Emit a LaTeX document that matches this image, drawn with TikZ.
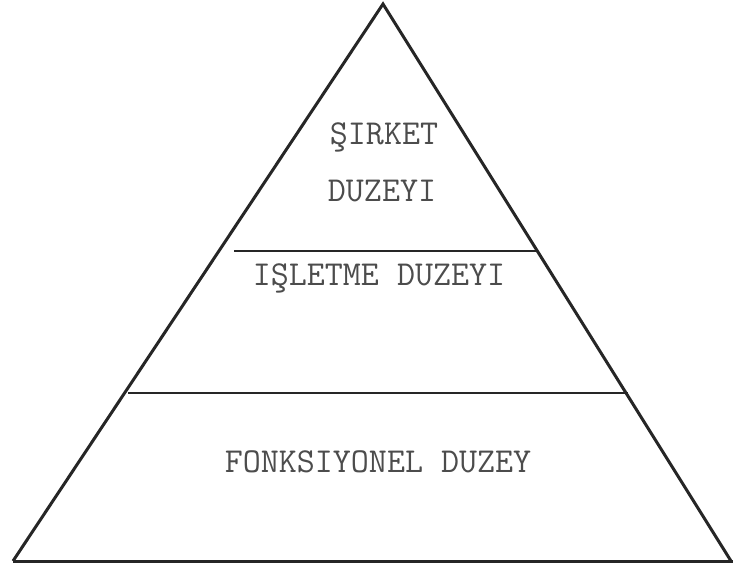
\documentclass[tikz,border=0pt]{standalone}
\usepackage{fontspec}
\usetikzlibrary{positioning, calc}

\begin{document}
\begin{tikzpicture}[
    x=1pt, y=1pt,
    edge/.style={draw=black!85, line width=3pt, line join=miter},
    divider/.style={draw=black!85, line width=1.5pt},
    level/.style={font=\ttfamily\fontsize{35}{40}\selectfont, text=black!70, align=center, inner sep=0pt}
]
    \useasboundingbox (0,0) rectangle (733,570);

    % Pyramid corners
    \coordinate (apex) at (383,566);
    \coordinate (left) at (13,9);
    \coordinate (right) at (731,9);
    \coordinate (baseend) at (733,9);

    % Outline
    \draw[edge] (left) -- (apex) -- (right);
    \draw[edge] (left) -- (baseend);

    % Level dividers
    \coordinate (d1l) at (234,319);
    \coordinate (d1r) at (538,319);
    \coordinate (d2l) at (128,177);
    \coordinate (d2r) at (628,177);
    \draw[divider] (d1l) -- (d1r);
    \draw[divider] (d2l) -- (d2r);

    % Labels
    \node[level] (top1) at (384,433) {ŞIRKET};
    \node[level] (top2) at (382,379) {DUZEYI};
    \node[level] (mid) at (379,292) {IŞLETME DUZEYI};
    \node[level] (low) at (378,108) {FONKSIYONEL DUZEY};

\end{tikzpicture}
\end{document}
